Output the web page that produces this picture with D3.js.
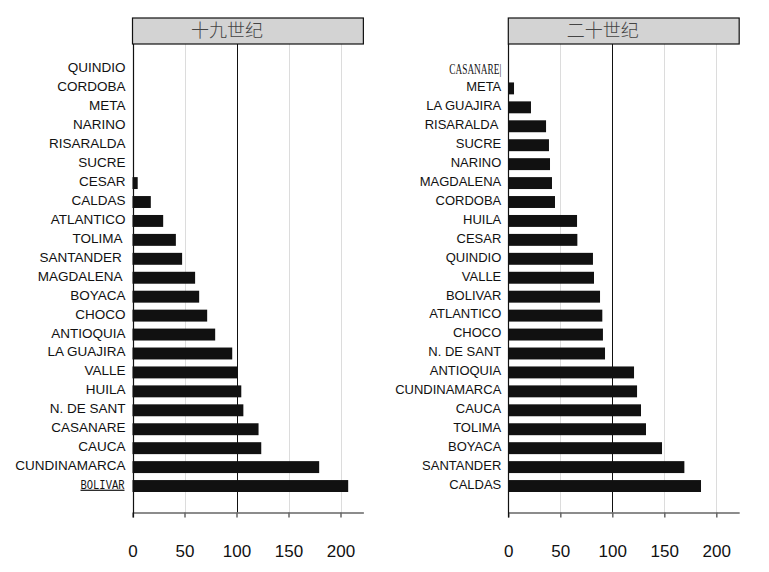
<!DOCTYPE html>
<html><head><meta charset="utf-8">
<script src="https://cdn.jsdelivr.net/npm/d3@7"></script>
<style>body{margin:0;background:#fff}svg{display:block}</style>
</head><body>
<svg id="c" width="769" height="572"></svg>
<script>
const titles = ["十九世纪", "二十世纪"];
const cats19 = ["QUINDIO","CORDOBA","META","NARINO","RISARALDA","SUCRE","CESAR","CALDAS","ATLANTICO","TOLIMA ","SANTANDER ","MAGDALENA ","BOYACA","CHOCO","ANTIOQUIA","LA GUAJIRA","VALLE","HUILA","N. DE SANT","CASANARE","CAUCA","CUNDINAMARCA","BOLIVAR"];
const vals19 = [0,0,0,0,0,0,5,17.6,29.5,41.7,47.7,60.2,64.1,71.8,79.5,95.9,100.5,104.6,106.6,121.2,123.8,179.5,207.4];
const cats20 = ["CASANARE","META","LA GUAJIRA","RISARALDA ","SUCRE","NARINO","MAGDALENA","CORDOBA","HUILA","CESAR","QUINDIO","VALLE","BOLIVAR","ATLANTICO","CHOCO","N. DE SANT","ANTIOQUIA","CUNDINAMARCA","CAUCA","TOLIMA","BOYACA","SANTANDER","CALDAS"];
const vals20 = [0,5.5,21.8,36.3,39.1,40.1,42,44.9,66.1,66.4,81.4,82.4,88.2,90.4,91,93,120.9,123.8,127.6,132.4,147.8,169.3,185.3];
const tickVals = [0,50,100,150,200];
const refLine = 100;
const xMax = 222;

const svg = d3.select("#c");
const panels = [
  {title: titles[0], cats: cats19, vals: vals19, x0: 132.5, fs: 13.5, oddLabel: "BOLIVAR"},
  {title: titles[1], cats: cats20, vals: vals20, x0: 508.3, fs: 13, oddLabel: "CASANARE"}
];
const headerTop = 18, headerBot = 44, axisY = 512.5;

panels.forEach(p => {
  const x = d3.scaleLinear().domain([0, xMax]).range([p.x0, p.x0 + xMax * 1.04]);
  const y = d3.scaleBand().domain(p.cats).range([60, 495.5]).paddingInner(0.37).paddingOuter(0.185);
  const g = svg.append("g");
  // grid
  g.selectAll("line.grid").data(tickVals.filter(v => v > 0 && v !== refLine)).join("line")
    .attr("x1", d => Math.round(x(d)) + 0.5).attr("x2", d => Math.round(x(d)) + 0.5)
    .attr("y1", headerBot).attr("y2", axisY).attr("stroke", "#dcdcdc").attr("stroke-width", 1);
  // bars
  g.selectAll("rect.bar").data(p.cats).join("rect")
    .attr("x", x(0)).attr("y", d => y(d))
    .attr("width", (d, i) => x(p.vals[i]) - x(0)).attr("height", y.bandwidth())
    .attr("fill", "#111");
  // reference line
  g.append("line").attr("x1", Math.round(x(refLine)) + 0.5).attr("x2", Math.round(x(refLine)) + 0.5)
    .attr("y1", headerBot).attr("y2", axisY).attr("stroke", "#111").attr("stroke-width", 1);
  // bottom axis
  const ax = g.append("g").attr("transform", `translate(0,${axisY})`)
    .call(d3.axisBottom(x).tickValues(tickVals).tickSize(5).tickSizeOuter(0));
  ax.select(".domain").attr("stroke", "#666").attr("stroke-width", 1.5);
  ax.selectAll(".tick line").attr("stroke", "#666").attr("stroke-width", 1.5);
  ax.selectAll(".tick text").attr("y", 0).attr("dy", 0).attr("transform", "translate(0,44)")
    .attr("font-family", "Liberation Sans, Arial, sans-serif").attr("font-size", 17).attr("fill", "#111");
  // left axis line
  g.append("line").attr("x1", Math.round(x(0)) + 0.5).attr("x2", Math.round(x(0)) + 0.5)
    .attr("y1", headerBot).attr("y2", axisY + 5).attr("stroke", "#111").attr("stroke-width", 1.2);
  // labels
  const labs = g.selectAll("text.lab").data(p.cats).join("text")
    .attr("x", x(0) - 7).attr("y", d => y(d) + y.bandwidth() / 2)
    .attr("dy", "0.22em").attr("text-anchor", "end")
    .style("white-space", "pre")
    .attr("fill", "#111")
    .attr("font-family", "Liberation Sans, Arial, sans-serif")
    .attr("font-size", p.fs)
    .text(d => d);
  labs.filter(d => d === p.oddLabel).each(function(d) {
    const t = d3.select(this);
    if (d === "BOLIVAR") {
      t.attr("font-family", "Liberation Mono, monospace").attr("font-size", 12)
        .attr("textLength", 44).attr("lengthAdjust", "spacingAndGlyphs")
        .attr("text-decoration", "underline dotted").attr("x", x(0) - 8);
    } else {
      t.attr("font-family", "Liberation Serif, serif").attr("font-size", 14)
        .attr("textLength", 52).attr("lengthAdjust", "spacingAndGlyphs")
        .attr("dy", "0.3em").text(d + "|");
    }
  });
  // header
  g.append("rect").attr("x", x(0)).attr("y", headerTop).attr("width", x(xMax) - x(0)).attr("height", headerBot - headerTop)
    .attr("fill", "#d3d3d3").attr("stroke", "#111").attr("stroke-width", 1.2);
  g.append("text").attr("x", (x(0) + x(xMax)) / 2 - 21).attr("y", (headerTop + headerBot) / 2).attr("dy", "0.36em")
    .attr("text-anchor", "middle").attr("font-family", "Noto Sans CJK SC, sans-serif").attr("font-weight", 300)
    .attr("font-size", 18).attr("fill", "#444").text(p.title);
});
</script>
</body></html>
